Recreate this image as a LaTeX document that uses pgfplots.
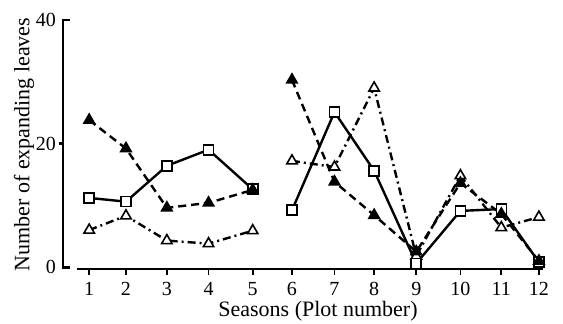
\documentclass[border=0pt]{standalone}
\usepackage{fontspec}
\setmainfont{Liberation Serif}
\usepackage{pgfplots}
\pgfplotsset{compat=1.18}
\begin{document}
\begin{tikzpicture}
\begin{axis}[
  scale only axis, width=240pt, height=124.5pt,
  xmin=0.36, xmax=12.1, ymin=-0.3, ymax=40,
  axis lines=left, axis line style={draw=none},
  clip=false,
  unbounded coords=jump,
  xtick={1,1.9,2.9,3.92,5,5.96,7,7.97,9,10.08,11.08,12},
  xticklabels={1,2,3,4,5,6,7,8,9,10,11,12},
  ytick={0,20,40},
  tick align=outside,
  major tick length=3pt,
  xtick style={line width=0.9pt, black},
  ytick style={draw=none},
  tick label style={font=\fontsize{10}{12}\selectfont},
  yticklabel style={xshift=3pt},
  /pgf/number format/assume math mode=true,
  xlabel={Seasons (Plot number)},
  ylabel={Number of expanding leaves},
  label style={font=\fontsize{11}{13}\selectfont},
  xlabel style={xshift=7.5pt, yshift=4pt},
  ylabel style={yshift=-6pt},
]
\coordinate (bl) at (rel axis cs:-0.13125,-0.2209);
\coordinate (tr) at (rel axis cs:1.04167,1.0803);
\draw[line width=1.4pt] (axis cs:0.53,40) -- (axis cs:0.36,40) -- (axis cs:0.36,0) -- (axis cs:0.53,0);
\draw[line width=1.2pt] (axis cs:0.36,20) -- (axis cs:0.26,20);
\draw[line width=1.3pt] (axis cs:0.7,-0.3) -- (axis cs:12.1,-0.3);
% open triangles, dash-dot
\addplot[black, line width=1.2pt, dash pattern=on 4pt off 2pt on 1pt off 2pt,
  mark=triangle*, mark size=3pt, mark options={solid, fill=white, line width=0.8pt}]
  coordinates {(1,6)(1.9,8.3)(2.9,4.3)(3.92,3.8)(5,5.9)(5.5,nan)(5.96,17.2)(7,16.2)(7.97,29)(9,1.8)(10.08,14.8)(11.08,6.4)(12,8.1)};
% squares, solid
\addplot[black, line width=1.2pt,
  mark=square*, mark size=2.5pt, mark options={solid, fill=white, line width=0.8pt}]
  coordinates {(1,11.2)(1.9,10.6)(2.9,16.4)(3.92,19)(5,12.6)(5.5,nan)(5.96,9.2)(7,25.1)(7.97,15.6)(9,0.6)(10.08,9.1)(11.08,9.4)(12,0.8)};
% filled triangles, dashed
\addplot[black, line width=1.2pt, dash pattern=on 4pt off 2.5pt,
  mark=triangle*, mark size=3pt, mark options={solid, fill=black, line width=0.8pt}]
  coordinates {(1,23.8)(1.9,19.2)(2.9,9.6)(3.92,10.4)(5,12.5)(5.5,nan)(5.96,30.3)(7,13.8)(7.97,8.4)(9,2.5)(10.08,13.6)(11.08,8.6)(12,1.0)};
\end{axis}
\pgfresetboundingbox
\path[use as bounding box] (bl) rectangle (tr);
\end{tikzpicture}
\end{document}
